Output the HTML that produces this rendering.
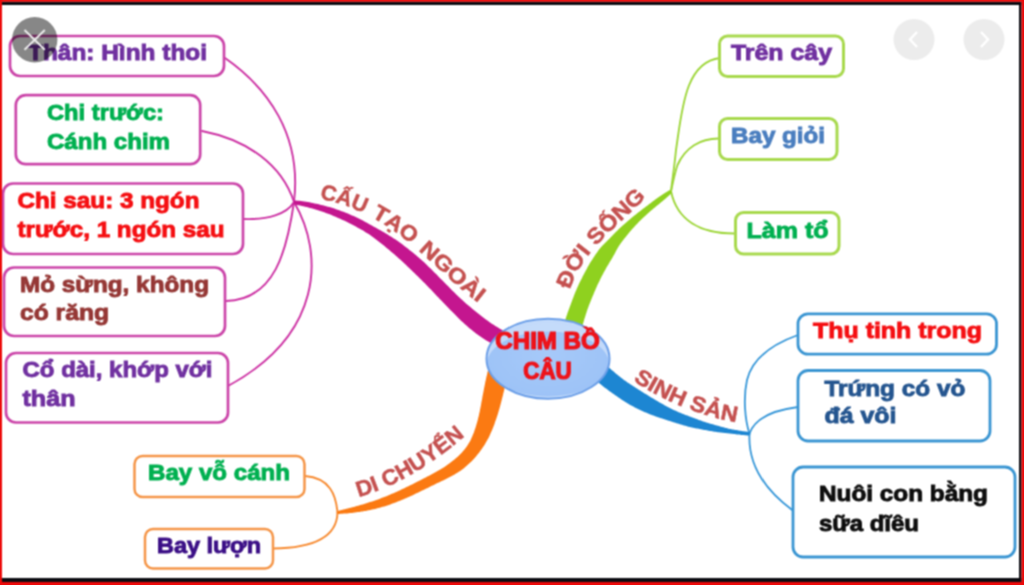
<!DOCTYPE html>
<html><head><meta charset="utf-8"><title>Chim bo cau</title>
<style>html,body{margin:0;padding:0;background:#fff;width:1024px;height:585px;overflow:hidden}
svg{display:block;font-family:"Liberation Sans",sans-serif}</style></head>
<body>
<svg width="1024" height="585" viewBox="0 0 1024 585">
<defs><radialGradient id="eg" cx="50%" cy="45%" r="60%"><stop offset="0" stop-color="#a6c9f9"/><stop offset="1" stop-color="#9cc2f6"/></radialGradient><linearGradient id="hl" x1="0" y1="0" x2="0" y2="1"><stop offset="0" stop-color="#fff" stop-opacity=".45"/><stop offset="1" stop-color="#fff" stop-opacity="0"/></linearGradient></defs>
<filter id="soft" x="0" y="0" width="1024" height="585" filterUnits="userSpaceOnUse" color-interpolation-filters="sRGB"><feConvolveMatrix order="3" kernelMatrix="1 2 1 2 4 2 1 2 1" divisor="16" edgeMode="duplicate" preserveAlpha="true"/></filter>
<g filter="url(#soft)">
<rect width="1024" height="585" fill="#fff"/>
<g fill="none" stroke-linecap="round">
<path d="M225,58 C268,88 302,135 294,202" stroke="#cc2fa2" stroke-width="1.9"/>
<path d="M202,131 C248,140 282,165 294,202" stroke="#cc2fa2" stroke-width="1.9"/>
<path d="M243,219 C268,220 287,214 294,202" stroke="#cc2fa2" stroke-width="1.9"/>
<path d="M294,202 C287,250 275,300 226,301" stroke="#cc2fa2" stroke-width="1.9"/>
<path d="M294,202 C325,255 322,335 228,386" stroke="#cc2fa2" stroke-width="1.9"/>
<path d="M720,58 C685,62 682,110 676,150 C674,170 672,182 671,191.3" stroke="#9dd638" stroke-width="1.9"/>
<path d="M720,138.5 C700,138 685,148 677.5,165 C675,172 673,182 671,191.3" stroke="#9dd638" stroke-width="1.9"/>
<path d="M671,191.3 C677,220 700,234 736,233.5" stroke="#9dd638" stroke-width="1.9"/>
<path d="M798,335 C770,345 752,360 747,380 C743,398 745,420 749.5,433.8" stroke="#3596d8" stroke-width="1.8"/>
<path d="M798,407 C775,410 755,418 749.5,433.5" stroke="#3596d8" stroke-width="1.8"/>
<path d="M749.5,433.8 C748,462 762,488 793.5,511" stroke="#3596d8" stroke-width="1.8"/>
<path d="M305,476 C330,478 336,495 337.5,512.5" stroke="#f78a30" stroke-width="1.9"/>
<path d="M337.5,512.5 C337,535 318,548 273,548.5" stroke="#f78a30" stroke-width="1.9"/>
</g>
<path d="M293.7,204.2 L295.4,204.5 L297,204.9 L298.6,205.2 L300.3,205.6 L301.9,206 L303.5,206.3 L305.1,206.7 L306.8,207.1 L308.4,207.5 L310,207.9 L311.6,208.3 L313.2,208.8 L314.8,209.2 L316.4,209.7 L318,210.2 L319.5,210.7 L321.1,211.2 L322.7,211.7 L324.3,212.3 L325.8,212.9 L327.4,213.4 L328.9,214 L330.4,214.6 L332,215.3 L333.5,215.9 L335,216.5 L336.6,217.2 L338.1,217.9 L339.6,218.5 L341.1,219.2 L342.6,219.9 L344.1,220.6 L345.6,221.3 L347.1,222 L348.5,222.8 L350,223.5 L351.5,224.3 L353,225 L354.4,225.8 L355.9,226.6 L357.3,227.4 L358.8,228.2 L360.2,229 L361.6,229.8 L363.1,230.6 L364.5,231.5 L365.9,232.4 L367.3,233.2 L368.7,234.1 L370.1,235.1 L371.4,236 L372.8,237 L374.1,238 L375.4,238.9 L376.7,240 L378,241 L379.3,242 L380.6,243 L381.9,244.1 L383.2,245.1 L384.5,246.1 L385.8,247.2 L387,248.2 L388.3,249.3 L389.6,250.3 L390.8,251.4 L392.1,252.5 L393.3,253.5 L394.6,254.6 L395.8,255.7 L397.1,256.8 L398.3,257.9 L399.5,259 L400.8,260.1 L402,261.2 L403.2,262.3 L404.4,263.5 L405.6,264.6 L406.8,265.7 L408,266.9 L409.2,268 L410.4,269.2 L411.6,270.3 L412.7,271.5 L413.9,272.6 L415.1,273.8 L416.3,274.9 L417.5,276.1 L418.7,277.2 L419.9,278.4 L421,279.5 L422.2,280.7 L423.4,281.9 L424.6,283.1 L425.7,284.3 L426.9,285.5 L428.1,286.7 L429.2,287.9 L430.4,289.1 L431.6,290.3 L432.7,291.5 L433.9,292.7 L435,294 L436.2,295.2 L437.3,296.4 L438.5,297.6 L439.7,298.9 L440.9,300.1 L442,301.3 L443.2,302.5 L444.4,303.7 L445.6,305 L446.8,306.2 L448,307.4 L449.2,308.7 L450.3,309.9 L451.5,311.1 L452.7,312.3 L454,313.6 L455.2,314.8 L456.4,316 L457.6,317.2 L458.8,318.5 L460.1,319.7 L461.3,320.9 L462.6,322.1 L463.9,323.3 L465.2,324.5 L466.5,325.6 L467.8,326.8 L469.1,327.9 L470.5,329 L471.8,330.1 L473.2,331.2 L474.6,332.3 L476,333.4 L477.5,334.4 L478.9,335.4 L480.4,336.5 L481.8,337.5 L483.3,338.4 L484.8,339.4 L486.3,340.4 L487.8,341.3 L489.4,342.2 L490.9,343.1 L492.5,344 L494,344.9 L495.6,345.7 L497.2,346.6 L498.8,347.4 L500.5,348.2 L502.1,348.9 L503.7,349.7 L505.4,350.4 L507.1,351.1 L508.8,351.7 L510.4,352.4 L512.1,353 L517.9,337 L516.4,336.5 L514.9,335.9 L513.5,335.3 L512,334.7 L510.6,334.1 L509.2,333.5 L507.8,332.8 L506.3,332.1 L504.9,331.4 L503.5,330.7 L502.2,330 L500.8,329.2 L499.4,328.4 L498,327.6 L496.7,326.8 L495.3,326 L494,325.1 L492.7,324.3 L491.4,323.4 L490,322.5 L488.7,321.6 L487.4,320.6 L486.2,319.7 L484.9,318.7 L483.6,317.8 L482.3,316.8 L481,315.8 L479.8,314.8 L478.5,313.8 L477.2,312.8 L476,311.8 L474.7,310.8 L473.5,309.7 L472.2,308.7 L470.9,307.6 L469.7,306.6 L468.4,305.5 L467.2,304.5 L465.9,303.4 L464.7,302.3 L463.5,301.2 L462.3,300.1 L461,299 L459.8,297.8 L458.6,296.7 L457.4,295.5 L456.2,294.4 L455.1,293.2 L453.9,292 L452.7,290.9 L451.5,289.7 L450.3,288.5 L449.1,287.3 L448,286.1 L446.8,284.9 L445.6,283.7 L444.4,282.5 L443.2,281.3 L442,280.1 L440.8,278.9 L439.6,277.7 L438.4,276.5 L437.3,275.3 L436.1,274.1 L434.9,272.9 L433.7,271.7 L432.5,270.5 L431.3,269.3 L430,268.1 L428.8,266.9 L427.6,265.7 L426.4,264.5 L425.1,263.3 L423.9,262.1 L422.6,261 L421.3,259.8 L420,258.7 L418.7,257.5 L417.4,256.4 L416.1,255.3 L414.8,254.2 L413.4,253.1 L412.1,252 L410.8,251 L409.4,249.9 L408.1,248.8 L406.7,247.8 L405.3,246.7 L404,245.7 L402.6,244.6 L401.2,243.6 L399.8,242.6 L398.4,241.6 L397,240.6 L395.6,239.6 L394.1,238.7 L392.7,237.7 L391.3,236.8 L389.8,235.9 L388.3,235 L386.9,234.1 L385.4,233.2 L383.9,232.3 L382.4,231.4 L380.9,230.6 L379.4,229.7 L377.9,228.9 L376.4,228.1 L374.9,227.2 L373.4,226.4 L371.9,225.5 L370.4,224.7 L368.9,223.9 L367.4,223 L365.9,222.2 L364.4,221.4 L362.9,220.6 L361.3,219.8 L359.8,219 L358.3,218.3 L356.7,217.5 L355.2,216.8 L353.6,216.1 L352,215.4 L350.5,214.7 L348.9,214 L347.3,213.3 L345.7,212.7 L344.1,212.1 L342.5,211.5 L340.9,210.9 L339.3,210.3 L337.6,209.7 L336,209.2 L334.4,208.6 L332.8,208.1 L331.1,207.6 L329.5,207.1 L327.8,206.7 L326.2,206.2 L324.5,205.8 L322.8,205.3 L321.2,204.9 L319.5,204.5 L317.9,204.1 L316.2,203.7 L314.5,203.4 L312.8,203 L311.2,202.7 L309.5,202.3 L307.8,202 L306.1,201.8 L304.4,201.5 L302.7,201.2 L301,201 L299.4,200.8 L297.7,200.7 L296,200.5 L294.2,200.4Z" fill="#c4168f"/>
<path d="M670,189.9 L669,190.5 L668,191.1 L667.1,191.7 L666.1,192.2 L665.2,192.8 L664.2,193.4 L663.3,194.1 L662.3,194.7 L661.4,195.3 L660.5,195.9 L659.5,196.5 L658.6,197.2 L657.7,197.8 L656.8,198.5 L655.9,199.1 L655,199.8 L654.1,200.5 L653.2,201.1 L652.3,201.8 L651.4,202.5 L650.5,203.2 L649.6,203.8 L648.7,204.5 L647.8,205.2 L646.9,205.9 L646,206.6 L645.1,207.2 L644.2,207.9 L643.3,208.6 L642.4,209.3 L641.5,210 L640.6,210.7 L639.7,211.4 L638.8,212.1 L637.9,212.8 L637,213.5 L636.1,214.2 L635.2,214.9 L634.4,215.6 L633.5,216.3 L632.6,217.1 L631.7,217.8 L630.8,218.5 L630,219.2 L629.1,220 L628.2,220.7 L627.3,221.5 L626.5,222.2 L625.6,223 L624.8,223.7 L623.9,224.5 L623,225.2 L622.2,226 L621.3,226.8 L620.5,227.6 L619.7,228.3 L618.8,229.1 L618,229.9 L617.2,230.7 L616.4,231.5 L615.5,232.3 L614.7,233.2 L613.9,234 L613.1,234.8 L612.3,235.7 L611.5,236.5 L610.7,237.3 L609.9,238.2 L609.1,239 L608.3,239.8 L607.5,240.6 L606.6,241.4 L605.8,242.3 L605,243.1 L604.1,243.9 L603.3,244.7 L602.5,245.6 L601.7,246.4 L600.9,247.3 L600.2,248.2 L599.4,249.1 L598.7,250 L598,251 L597.4,251.9 L596.7,252.9 L596,253.8 L595.4,254.8 L594.7,255.8 L594.1,256.7 L593.4,257.7 L592.8,258.7 L592.2,259.7 L591.6,260.6 L591,261.6 L590.3,262.6 L589.7,263.6 L589.2,264.6 L588.6,265.6 L588,266.6 L587.4,267.6 L586.9,268.7 L586.3,269.7 L585.7,270.7 L585.2,271.7 L584.6,272.7 L584.1,273.8 L583.6,274.8 L583,275.8 L582.5,276.8 L582,277.9 L581.5,278.9 L580.9,279.9 L580.4,281 L579.9,282 L579.4,283.1 L578.9,284.1 L578.4,285.2 L577.9,286.2 L577.5,287.3 L577,288.3 L576.5,289.4 L576.1,290.4 L575.6,291.5 L575.2,292.6 L574.8,293.6 L574.3,294.7 L573.9,295.8 L573.5,296.9 L573.1,297.9 L572.7,299 L572.3,300.1 L571.9,301.2 L571.5,302.3 L571.1,303.3 L570.7,304.4 L570.3,305.5 L569.9,306.6 L569.5,307.7 L569.1,308.7 L568.7,309.8 L568.3,310.9 L567.9,312 L567.5,313.1 L567.2,314.2 L566.8,315.3 L566.4,316.3 L566.1,317.4 L565.7,318.5 L565.3,319.6 L565,320.7 L564.7,321.8 L564.3,322.9 L564,324 L563.7,325.1 L563.3,326.2 L563,327.3 L562.7,328.4 L562.4,329.5 L562.1,330.6 L579.9,335.4 L580.2,334.3 L580.5,333.3 L580.7,332.2 L581,331.1 L581.3,330.1 L581.6,329 L581.9,328 L582.1,326.9 L582.4,325.9 L582.7,324.9 L583,323.8 L583.3,322.8 L583.6,321.7 L583.9,320.7 L584.2,319.6 L584.5,318.6 L584.9,317.6 L585.2,316.5 L585.5,315.5 L585.8,314.4 L586.1,313.4 L586.5,312.4 L586.8,311.3 L587.2,310.3 L587.5,309.3 L587.9,308.3 L588.3,307.3 L588.6,306.2 L589,305.2 L589.4,304.2 L589.8,303.2 L590.2,302.2 L590.6,301.2 L591,300.2 L591.4,299.2 L591.8,298.2 L592.2,297.2 L592.6,296.2 L593.1,295.2 L593.5,294.2 L593.9,293.2 L594.3,292.2 L594.7,291.2 L595.2,290.2 L595.6,289.2 L596,288.2 L596.5,287.3 L596.9,286.3 L597.3,285.3 L597.8,284.3 L598.3,283.3 L598.7,282.4 L599.2,281.4 L599.7,280.4 L600.1,279.5 L600.6,278.5 L601.1,277.5 L601.6,276.6 L602.1,275.6 L602.6,274.7 L603.1,273.7 L603.6,272.8 L604.1,271.8 L604.6,270.9 L605.2,270 L605.7,269 L606.2,268.1 L606.7,267.1 L607.3,266.2 L607.8,265.3 L608.4,264.4 L608.9,263.4 L609.5,262.5 L610,261.6 L610.6,260.7 L611.1,259.8 L611.7,258.9 L612.2,257.9 L612.8,257 L613.3,256.1 L613.9,255.1 L614.4,254.2 L614.9,253.2 L615.4,252.3 L615.9,251.3 L616.4,250.3 L616.9,249.4 L617.4,248.4 L618,247.5 L618.6,246.5 L619.2,245.6 L619.8,244.7 L620.4,243.8 L621,243 L621.7,242.1 L622.3,241.2 L623,240.3 L623.7,239.5 L624.3,238.6 L625,237.8 L625.7,236.9 L626.4,236.1 L627,235.2 L627.7,234.4 L628.4,233.5 L629.1,232.7 L629.8,231.8 L630.5,231 L631.2,230.2 L632,229.3 L632.7,228.5 L633.4,227.7 L634.2,226.9 L634.9,226.1 L635.7,225.3 L636.4,224.5 L637.2,223.7 L637.9,222.9 L638.7,222.1 L639.5,221.3 L640.3,220.5 L641,219.8 L641.8,219 L642.6,218.2 L643.4,217.5 L644.2,216.7 L645.1,216 L645.9,215.2 L646.7,214.5 L647.5,213.7 L648.3,213 L649.2,212.3 L650,211.5 L650.8,210.8 L651.7,210.1 L652.5,209.4 L653.4,208.6 L654.2,207.9 L655.1,207.2 L655.9,206.5 L656.8,205.8 L657.7,205.1 L658.5,204.4 L659.4,203.7 L660.2,203 L661.1,202.3 L662,201.6 L662.8,200.9 L663.7,200.1 L664.5,199.4 L665.4,198.7 L666.2,197.9 L667,197.2 L667.9,196.5 L668.7,195.7 L669.6,195 L670.4,194.2 L671.2,193.5 L672,192.7Z" fill="#8fd11f"/>
<path d="M749.7,432.1 L748.6,431.9 L747.5,431.8 L746.3,431.6 L745.2,431.5 L744.1,431.3 L743,431.2 L741.9,431 L740.8,430.8 L739.7,430.7 L738.6,430.5 L737.5,430.3 L736.4,430.1 L735.3,430 L734.2,429.8 L733.1,429.6 L732,429.4 L730.9,429.1 L729.8,428.9 L728.7,428.7 L727.7,428.4 L726.6,428.1 L725.5,427.9 L724.4,427.6 L723.3,427.3 L722.2,427 L721.2,426.7 L720.1,426.4 L719,426.1 L717.9,425.8 L716.9,425.5 L715.8,425.2 L714.7,424.9 L713.7,424.6 L712.6,424.3 L711.5,424 L710.5,423.7 L709.4,423.4 L708.3,423.1 L707.3,422.7 L706.2,422.4 L705.1,422.1 L704.1,421.7 L703,421.4 L702,421 L700.9,420.6 L699.9,420.3 L698.9,419.9 L697.8,419.5 L696.8,419.1 L695.7,418.7 L694.7,418.3 L693.7,417.9 L692.6,417.6 L691.6,417.2 L690.6,416.8 L689.5,416.4 L688.5,416 L687.4,415.6 L686.4,415.3 L685.4,414.9 L684.4,414.5 L683.3,414.1 L682.3,413.7 L681.3,413.3 L680.3,412.8 L679.2,412.4 L678.2,412 L677.2,411.5 L676.2,411.1 L675.2,410.6 L674.2,410.2 L673.2,409.7 L672.2,409.2 L671.2,408.7 L670.3,408.3 L669.3,407.8 L668.3,407.3 L667.3,406.7 L666.4,406.2 L665.4,405.7 L664.4,405.2 L663.5,404.6 L662.5,404.1 L661.6,403.5 L660.6,403 L659.7,402.4 L658.7,401.9 L657.8,401.3 L656.8,400.8 L655.9,400.2 L655,399.7 L654,399.1 L653.1,398.6 L652.2,398 L651.2,397.4 L650.3,396.9 L649.4,396.3 L648.4,395.7 L647.5,395.1 L646.6,394.6 L645.7,394 L644.7,393.4 L643.8,392.9 L642.9,392.3 L642,391.7 L641.1,391.2 L640.2,390.6 L639.2,390 L638.3,389.4 L637.4,388.8 L636.5,388.3 L635.6,387.7 L634.7,387.1 L633.8,386.5 L632.9,385.9 L632,385.3 L631.1,384.8 L630.2,384.2 L629.3,383.6 L628.4,383 L627.5,382.4 L626.6,381.7 L625.7,381.1 L624.8,380.5 L623.9,379.9 L623.1,379.2 L622.2,378.6 L621.4,377.9 L620.5,377.3 L619.7,376.6 L618.8,375.9 L618,375.2 L617.2,374.6 L616.3,373.9 L615.5,373.2 L614.7,372.5 L613.9,371.8 L613.1,371.1 L612.2,370.4 L611.4,369.7 L610.6,368.9 L609.8,368.2 L609,367.5 L608.3,366.8 L607.5,366 L606.7,365.3 L605.9,364.6 L605.1,363.9 L604.3,363.1 L603.5,362.4 L602.7,361.7 L602,360.9 L601.2,360.2 L600.4,359.4 L599.7,358.7 L598.9,357.9 L598.2,357.1 L597.4,356.4 L596.7,355.6 L583.3,368.4 L584.1,369.2 L585,370.1 L585.8,370.9 L586.6,371.8 L587.4,372.6 L588.3,373.4 L589.1,374.2 L590,375 L590.8,375.8 L591.7,376.6 L592.5,377.4 L593.4,378.2 L594.3,379 L595.2,379.8 L596,380.6 L596.9,381.3 L597.8,382.1 L598.7,382.8 L599.6,383.6 L600.6,384.3 L601.5,385 L602.4,385.8 L603.3,386.5 L604.2,387.2 L605.2,387.9 L606.1,388.6 L607.1,389.3 L608,390 L608.9,390.7 L609.9,391.4 L610.8,392.1 L611.8,392.7 L612.7,393.4 L613.7,394.1 L614.6,394.8 L615.6,395.4 L616.6,396.1 L617.5,396.8 L618.5,397.4 L619.4,398.1 L620.4,398.8 L621.4,399.4 L622.3,400.1 L623.3,400.7 L624.3,401.3 L625.3,402 L626.3,402.6 L627.3,403.2 L628.3,403.8 L629.3,404.4 L630.3,404.9 L631.3,405.5 L632.3,406.1 L633.4,406.6 L634.4,407.2 L635.4,407.7 L636.5,408.2 L637.5,408.8 L638.5,409.3 L639.6,409.8 L640.6,410.3 L641.7,410.8 L642.8,411.3 L643.8,411.7 L644.9,412.2 L646,412.6 L647,413.1 L648.1,413.5 L649.2,414 L650.3,414.4 L651.3,414.8 L652.4,415.2 L653.5,415.6 L654.6,416 L655.7,416.4 L656.8,416.8 L657.9,417.2 L659,417.5 L660.1,417.9 L661.2,418.3 L662.3,418.6 L663.4,419 L664.5,419.3 L665.6,419.7 L666.7,420.1 L667.8,420.4 L668.9,420.8 L670,421.1 L671.1,421.5 L672.2,421.8 L673.3,422.2 L674.4,422.5 L675.4,422.8 L676.5,423.2 L677.6,423.5 L678.7,423.8 L679.8,424.2 L680.9,424.5 L682,424.8 L683.1,425.2 L684.2,425.5 L685.3,425.8 L686.4,426.1 L687.5,426.4 L688.6,426.7 L689.8,427 L690.9,427.2 L692,427.5 L693.1,427.7 L694.2,428 L695.4,428.2 L696.5,428.4 L697.6,428.6 L698.7,428.8 L699.8,429.1 L701,429.3 L702.1,429.5 L703.2,429.7 L704.3,429.9 L705.4,430.1 L706.6,430.3 L707.7,430.5 L708.8,430.7 L709.9,430.9 L711,431.1 L712.2,431.3 L713.3,431.5 L714.4,431.7 L715.5,431.8 L716.7,432 L717.8,432.2 L718.9,432.3 L720.1,432.4 L721.2,432.6 L722.3,432.7 L723.4,432.8 L724.6,432.9 L725.7,433 L726.8,433.2 L728,433.3 L729.1,433.4 L730.2,433.5 L731.3,433.7 L732.5,433.8 L733.6,434 L734.7,434.1 L735.8,434.2 L737,434.4 L738.1,434.5 L739.2,434.6 L740.3,434.7 L741.4,434.9 L742.6,435 L743.7,435.1 L744.8,435.2 L745.9,435.3 L747.1,435.4 L748.2,435.5 L749.3,435.5Z" fill="#1d86d2"/>
<path d="M337.7,514 L339.3,513.9 L340.8,513.8 L342.4,513.7 L344,513.6 L345.5,513.5 L347.1,513.4 L348.6,513.2 L350.2,513.1 L351.8,512.9 L353.3,512.7 L354.9,512.5 L356.5,512.3 L358,512.1 L359.6,511.9 L361.1,511.6 L362.7,511.4 L364.2,511.1 L365.8,510.9 L367.3,510.6 L368.9,510.3 L370.4,509.9 L372,509.6 L373.5,509.3 L375.1,508.9 L376.6,508.5 L378.2,508.1 L379.7,507.7 L381.2,507.3 L382.7,506.8 L384.3,506.4 L385.8,505.9 L387.3,505.4 L388.8,504.9 L390.3,504.4 L391.8,503.8 L393.3,503.3 L394.8,502.7 L396.2,502.2 L397.7,501.6 L399.2,501 L400.6,500.4 L402.1,499.8 L403.6,499.2 L405,498.6 L406.5,497.9 L407.9,497.3 L409.3,496.7 L410.8,496 L412.2,495.4 L413.6,494.7 L415,494 L416.4,493.3 L417.8,492.7 L419.3,492 L420.7,491.3 L422.1,490.6 L423.5,489.9 L424.9,489.3 L426.3,488.6 L427.7,487.9 L429,487.2 L430.4,486.5 L431.8,485.8 L433.2,485.2 L434.6,484.5 L436,483.8 L437.4,483.1 L438.9,482.4 L440.3,481.8 L441.7,481.1 L443.1,480.4 L444.5,479.7 L446,478.9 L447.4,478.2 L448.8,477.5 L450.3,476.8 L451.7,476 L453.1,475.2 L454.6,474.4 L456,473.6 L457.4,472.7 L458.8,471.8 L460.2,470.9 L461.5,469.9 L462.9,468.9 L464.2,467.9 L465.5,466.8 L466.7,465.8 L468,464.6 L469.2,463.5 L470.5,462.3 L471.7,461.2 L472.8,459.9 L474,458.7 L475.1,457.4 L476.2,456.2 L477.3,454.8 L478.4,453.5 L479.4,452.2 L480.4,450.8 L481.4,449.4 L482.4,448 L483.4,446.6 L484.3,445.2 L485.2,443.7 L486,442.3 L486.9,440.8 L487.7,439.3 L488.5,437.9 L489.2,436.4 L489.9,434.9 L490.6,433.3 L491.3,431.8 L492,430.3 L492.6,428.8 L493.2,427.2 L493.8,425.7 L494.4,424.2 L494.9,422.6 L495.4,421.1 L496,419.5 L496.5,418 L497,416.5 L497.5,414.9 L498,413.4 L498.4,411.9 L498.9,410.3 L499.4,408.8 L499.8,407.3 L500.2,405.7 L500.6,404.2 L501,402.7 L501.4,401.2 L501.8,399.6 L502.2,398.1 L502.6,396.6 L503,395.1 L503.3,393.6 L503.7,392.1 L504.1,390.6 L504.4,389.1 L504.8,387.6 L505.1,386.1 L505.5,384.7 L505.9,383.2 L506.2,381.7 L506.6,380.3 L507,378.8 L507.4,377.4 L507.8,376 L508.2,374.6 L508.6,373.1 L509,371.8 L509.5,370.4 L509.9,369 L510.4,367.6 L510.9,366.3 L511.3,364.9 L511.8,363.6 L492.2,356.4 L491.6,358 L491.1,359.6 L490.6,361.2 L490.1,362.8 L489.6,364.4 L489.2,366 L488.7,367.5 L488.3,369.1 L487.9,370.7 L487.5,372.3 L487.2,373.8 L486.8,375.4 L486.4,377 L486.1,378.5 L485.8,380.1 L485.4,381.6 L485.1,383.2 L484.8,384.7 L484.5,386.3 L484.2,387.8 L483.9,389.3 L483.6,390.9 L483.3,392.4 L483,393.9 L482.7,395.4 L482.4,396.9 L482.2,398.5 L481.9,400 L481.6,401.5 L481.3,403 L481.1,404.4 L480.8,405.9 L480.5,407.4 L480.2,408.9 L479.9,410.4 L479.7,411.8 L479.3,413.3 L479,414.7 L478.7,416.2 L478.3,417.6 L478,419 L477.6,420.5 L477.2,421.9 L476.8,423.3 L476.4,424.7 L476,426.1 L475.6,427.4 L475.1,428.8 L474.6,430.2 L474.2,431.5 L473.7,432.9 L473.1,434.2 L472.6,435.5 L472.1,436.8 L471.5,438.1 L470.9,439.4 L470.3,440.7 L469.6,441.9 L468.9,443.1 L468.2,444.3 L467.4,445.5 L466.6,446.7 L465.8,447.8 L464.9,448.9 L464.1,450 L463.1,451.1 L462.2,452.2 L461.2,453.2 L460.2,454.2 L459.2,455.2 L458.2,456.2 L457.1,457.2 L456.1,458.1 L455,459 L453.9,459.9 L452.7,460.8 L451.6,461.7 L450.5,462.6 L449.3,463.5 L448.1,464.3 L446.9,465.2 L445.7,466 L444.5,466.9 L443.2,467.7 L441.9,468.5 L440.7,469.3 L439.4,470 L438,470.8 L436.7,471.6 L435.4,472.3 L434,473 L432.7,473.8 L431.3,474.5 L430,475.2 L428.6,475.9 L427.2,476.6 L425.8,477.4 L424.5,478.1 L423.1,478.8 L421.7,479.5 L420.3,480.2 L418.9,480.9 L417.6,481.6 L416.2,482.3 L414.8,483 L413.4,483.7 L412.1,484.4 L410.7,485.1 L409.3,485.8 L407.9,486.4 L406.5,487.1 L405.2,487.8 L403.8,488.4 L402.4,489.1 L401,489.8 L399.6,490.4 L398.3,491 L396.9,491.7 L395.5,492.3 L394.1,492.9 L392.7,493.5 L391.3,494.1 L389.9,494.7 L388.5,495.3 L387.1,495.9 L385.7,496.5 L384.3,497 L382.9,497.6 L381.4,498.1 L380,498.7 L378.6,499.2 L377.2,499.7 L375.7,500.2 L374.3,500.7 L372.9,501.2 L371.4,501.7 L370,502.1 L368.5,502.6 L367.1,503.1 L365.6,503.5 L364.1,504 L362.7,504.4 L361.2,504.8 L359.7,505.2 L358.2,505.7 L356.8,506.1 L355.3,506.5 L353.8,506.9 L352.3,507.3 L350.8,507.7 L349.3,508 L347.8,508.4 L346.3,508.8 L344.8,509.2 L343.3,509.6 L341.8,509.9 L340.3,510.3 L338.8,510.7 L337.3,511Z" fill="#fb7a12"/>
<clipPath id="ec"><ellipse cx="548" cy="358.7" rx="61.5" ry="40"/></clipPath>
<ellipse cx="548" cy="358.7" rx="61.5" ry="40" fill="url(#eg)"/>
<g clip-path="url(#ec)"><path d="M480,310H620V410H480Z M609,364a61,32.5 0 1,0 -122,0a61,32.5 0 1,0 122,0Z" fill="#fff" fill-opacity="0.38" fill-rule="evenodd"/><path d="M612,330 C616,345 614,365 604,380 C610,362 611,345 606,330Z" fill="#fff" fill-opacity="0.35"/></g>
<ellipse cx="548" cy="358.7" rx="61.5" ry="40" fill="none" stroke="#6c9fe8" stroke-width="2"/>
<rect x="10" y="36" width="214" height="40" rx="10" fill="#fff" stroke="#cb45a9" stroke-width="2.7"/>
<rect x="15.8" y="95.2" width="184.4" height="69" rx="10" fill="#fff" stroke="#cb45a9" stroke-width="2.7"/>
<rect x="3" y="183.5" width="240" height="70.5" rx="10" fill="#fff" stroke="#cb45a9" stroke-width="2.7"/>
<rect x="4" y="267.5" width="221" height="68.5" rx="10" fill="#fff" stroke="#cb45a9" stroke-width="2.7"/>
<rect x="6" y="353" width="222" height="69.5" rx="10" fill="#fff" stroke="#cb45a9" stroke-width="2.7"/>
<rect x="719.5" y="36" width="124" height="40.5" rx="8" fill="#fff" stroke="#a8d94e" stroke-width="3"/>
<rect x="719.5" y="118.5" width="117.5" height="41" rx="8" fill="#fff" stroke="#a8d94e" stroke-width="3"/>
<rect x="735.5" y="212.5" width="103.5" height="41.5" rx="8" fill="#fff" stroke="#a8d94e" stroke-width="3"/>
<rect x="798" y="313.8" width="198.5" height="40.4" rx="10" fill="#fff" stroke="#3a95d2" stroke-width="2.8"/>
<rect x="798" y="370.5" width="192" height="70.5" rx="10" fill="#fff" stroke="#3a95d2" stroke-width="2.8"/>
<rect x="793" y="467" width="222" height="90" rx="10" fill="#fff" stroke="#3a95d2" stroke-width="2.8"/>
<rect x="134.5" y="456" width="170" height="41" rx="8" fill="#fff" stroke="#f59547" stroke-width="2.5"/>
<rect x="145" y="529" width="128" height="39.5" rx="8" fill="#fff" stroke="#f59547" stroke-width="2.5"/>
<g font-family="Liberation Sans, sans-serif" font-weight="bold" stroke-width="0.9" style="paint-order:stroke">
<text x="28" y="59.7" fill="#7030a0" stroke="#7030a0" font-size="22.5" textLength="179" lengthAdjust="spacingAndGlyphs">Thân: Hình thoi</text>
<text x="47" y="119.6" fill="#00b050" stroke="#00b050" font-size="22.5" textLength="117" lengthAdjust="spacingAndGlyphs">Chi trước:</text>
<text x="47" y="148.7" fill="#00b050" stroke="#00b050" font-size="22.5" textLength="123" lengthAdjust="spacingAndGlyphs">Cánh chim</text>
<text x="17.5" y="208" fill="#f50f12" stroke="#f50f12" font-size="22.5" textLength="182" lengthAdjust="spacingAndGlyphs">Chi sau: 3 ngón</text>
<text x="17.5" y="237.3" fill="#f50f12" stroke="#f50f12" font-size="22.5" textLength="207" lengthAdjust="spacingAndGlyphs">trước, 1 ngón sau</text>
<text x="20" y="291.7" fill="#953735" stroke="#953735" font-size="22.5" textLength="189" lengthAdjust="spacingAndGlyphs">Mỏ sừng, không</text>
<text x="20" y="319.8" fill="#953735" stroke="#953735" font-size="22.5" textLength="89" lengthAdjust="spacingAndGlyphs">có răng</text>
<text x="22.5" y="377.2" fill="#7030a0" stroke="#7030a0" font-size="22.5" textLength="190" lengthAdjust="spacingAndGlyphs">Cổ dài, khớp với</text>
<text x="22.5" y="405.5" fill="#7030a0" stroke="#7030a0" font-size="22.5" textLength="53" lengthAdjust="spacingAndGlyphs">thân</text>
<text x="731" y="59.8" fill="#7030a0" stroke="#7030a0" font-size="22.5" textLength="101" lengthAdjust="spacingAndGlyphs">Trên cây</text>
<text x="731" y="143.3" fill="#4a7ebf" stroke="#4a7ebf" font-size="22.5" textLength="94" lengthAdjust="spacingAndGlyphs">Bay giỏi</text>
<text x="746.5" y="237.5" fill="#00b050" stroke="#00b050" font-size="22.5" textLength="82" lengthAdjust="spacingAndGlyphs">Làm tổ</text>
<text x="813" y="338" fill="#f50f12" stroke="#f50f12" font-size="22.5" textLength="169" lengthAdjust="spacingAndGlyphs">Thụ tinh trong</text>
<text x="824.5" y="395.6" fill="#24558f" stroke="#24558f" font-size="22.5" textLength="141" lengthAdjust="spacingAndGlyphs">Trứng có vỏ</text>
<text x="824.5" y="423.3" fill="#24558f" stroke="#24558f" font-size="22.5" textLength="72" lengthAdjust="spacingAndGlyphs">đá vôi</text>
<text x="819" y="500.7" fill="#0d0d0d" stroke="#0d0d0d" font-size="22.5" textLength="169" lengthAdjust="spacingAndGlyphs">Nuôi con bằng</text>
<text x="819" y="530.5" fill="#0d0d0d" stroke="#0d0d0d" font-size="22.5" textLength="100" lengthAdjust="spacingAndGlyphs">sữa dĩêu</text>
<text x="148" y="480.3" fill="#00b050" stroke="#00b050" font-size="22.5" textLength="142" lengthAdjust="spacingAndGlyphs">Bay vỗ cánh</text>
<text x="157" y="552.8" fill="#3b0f86" stroke="#3b0f86" font-size="22.5" textLength="104" lengthAdjust="spacingAndGlyphs">Bay lượn</text>
<path id="p1" d="M300.7,195.1 L320.3,198.9 C394.1,213.4 423.9,260.8 477.6,302.4 L493.4,314.7" fill="none"/>
<path id="p2" d="M563.7,309 L569.8,289.9 C582.6,249.9 618.5,226 646,197 L659.8,182.5" fill="none"/>
<path id="p3" d="M617.1,368.8 L633.3,380.5 C658.6,398.7 704,417.7 736.1,422 L755.9,424.6" fill="none"/>
<path id="p4" d="M339.4,502.4 L358.7,497.1 C398.5,486 433.7,462.5 465,436 L480.3,423.1" fill="none"/>
<text fill="#c4504f" stroke="#c4504f" stroke-width="0.5" font-size="21.5"><textPath href="#p1" startOffset="19" textLength="47.2" lengthAdjust="spacingAndGlyphs">CẤU</textPath></text>
<text fill="#c4504f" stroke="#c4504f" stroke-width="0.5" font-size="21.5"><textPath href="#p1" startOffset="74" textLength="48.8" lengthAdjust="spacingAndGlyphs">TẠO</textPath></text>
<text fill="#c4504f" stroke="#c4504f" stroke-width="0.5" font-size="21.5"><textPath href="#p1" startOffset="132.1" textLength="79.9" lengthAdjust="spacingAndGlyphs">NGOÀI</textPath></text>
<text fill="#c4504f" stroke="#c4504f" stroke-width="0.5" font-size="22"><textPath href="#p2" startOffset="20" textLength="121.5" lengthAdjust="spacingAndGlyphs">ĐỜI SỐNG</textPath></text>
<text fill="#c4504f" stroke="#c4504f" stroke-width="0.5" font-size="22"><textPath href="#p3" startOffset="20" textLength="111.7" lengthAdjust="spacingAndGlyphs">SINH SẢN</textPath></text>
<text fill="#c4504f" stroke="#c4504f" stroke-width="0.5" font-size="22"><textPath href="#p4" startOffset="20" textLength="123.6" lengthAdjust="spacingAndGlyphs">DI CHUYỂN</textPath></text>
<text stroke-width="1.2" x="495.3" y="348.8" fill="#ee1219" stroke="#ee1219" font-size="23.5" textLength="104.5" lengthAdjust="spacingAndGlyphs">CHIM BỒ</text>
<text stroke-width="1.2" x="523.3" y="378.5" fill="#ee1219" stroke="#ee1219" font-size="23.5" textLength="48.5" lengthAdjust="spacingAndGlyphs">CÂU</text>
</g>
<circle cx="34.7" cy="39.7" r="22.7" fill="#000" fill-opacity=".47"/>
<path d="M24.5,30 L44.8,49.8 M44.8,30 L24.5,49.8" stroke="#ececec" stroke-width="1.9"/>
<circle cx="914" cy="39.5" r="20.5" fill="#ececec"/>
<circle cx="984" cy="39.5" r="20.5" fill="#ececec"/>
<path d="M917,32 L910,39.5 L917,47" fill="none" stroke="#fff" stroke-width="2.4"/>
<path d="M981,32 L988,39.5 L981,47" fill="none" stroke="#fff" stroke-width="2.4"/>
<g fill="#0c0c12"><rect x="2" y="1.8" width="1019.5" height="3.2"/><rect x="1019" y="2" width="2.5" height="580"/><rect x="2" y="578" width="1019.5" height="4"/></g>
<g fill="#ec0a0a"><rect x="0" y="0" width="1024" height="1.8"/><rect x="0" y="0" width="2" height="585"/><rect x="1021.5" y="0" width="2.5" height="585"/><rect x="0" y="582" width="1024" height="3"/></g>
</g>
</svg>
</body></html>
